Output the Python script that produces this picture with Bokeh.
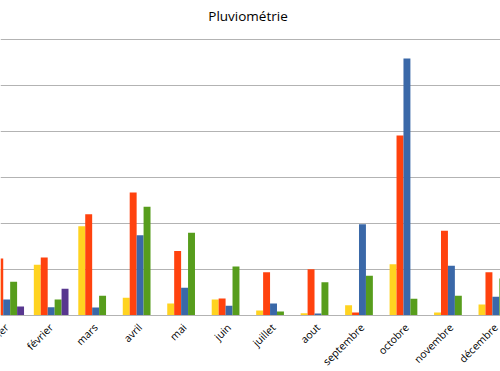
import math
from bokeh.plotting import figure
from bokeh.models import Range1d, FixedTicker, ColumnDataSource
from bokeh.core.properties import value
from bokeh.embed import file_html
from bokeh.resources import INLINE

months = ["janvier", "février", "mars", "avril", "mai", "juin", "juillet",
          "aout", "septembre", "octobre", "novembre", "décembre"]
s1 = [50.0, 54.6, 96.5, 18.7, 12.5, 16.8, 4.9, 2.0, 10.7, 55.2, 2.7, 11.4]
s2 = [61.4, 62.5, 109.6, 133.2, 69.7, 17.9, 46.5, 49.8, 2.7, 195.1, 91.5, 46.5]
s3 = [16.8, 8.5, 8.2, 86.8, 29.5, 10.0, 12.5, 1.6, 98.7, 278.8, 53.5, 19.8]
s4 = [36.1, 16.8, 20.8, 117.6, 89.3, 52.7, 3.8, 35.7, 42.6, 17.6, 20.8, 39.7]
s5 = [9.2, 28.5, 0, 0, 0, 0, 0, 0, 0, 0, 0, 0]
colors = ["#ffd320", "#ff420e", "#3a68a8", "#579d1c", "#58378f"]
y_ticks = [0, 50, 100, 150, 200, 250, 300]
title_text = "Pluviométrie"

W, H = 500, 371
x0, x1 = -0.1394, 11.104
y0, y1 = -61.41, 341.85
px = W / (x1 - x0)
py = H / (y1 - y0)

p = figure(width=W, height=H, output_backend="svg", toolbar_location=None,
           x_axis_location=None, y_axis_location=None,
           x_range=Range1d(x0, x1), y_range=Range1d(y0, y1))
p.min_border = 0
p.outline_line_color = None
p.background_fill_color = "white"
p.border_fill_color = "white"

bw = 0.156
xs = list(range(len(months)))
for k, (vals, c) in enumerate(zip([s1, s2, s3, s4, s5], colors)):
    off = (k - 2) * bw
    p.vbar(x=[x + off for x in xs], top=vals, bottom=0, width=bw,
           fill_color=c, line_color=None)

p.xgrid.grid_line_color = None
p.ygrid.ticker = FixedTicker(ticks=y_ticks)
p.ygrid.grid_line_color = "#b3b3b3"
p.ygrid.grid_line_width = 1

# category labels, rotated 45 degrees below the baseline
lab = ColumnDataSource(dict(x=list(xs),
                            y=[-10.5 / py] * len(xs),
                            t=months))
p.text(x="x", y="y", text="t", source=lab, angle=math.pi / 4,
       text_align="right", text_baseline="middle",
       text_font=value("Open Sans"), text_font_size="10.5px", text_color="#000000")

# title
p.text(x=[(x0 + x1) / 2 - 2.5 / px], y=[y1 - 15.5 / py], text=[title_text],
       text_align="center", text_baseline="middle",
       text_font=value("Open Sans"), text_font_size="13.5px", text_color="#000000")

open("out.html", "w").write(file_html(p, INLINE))
